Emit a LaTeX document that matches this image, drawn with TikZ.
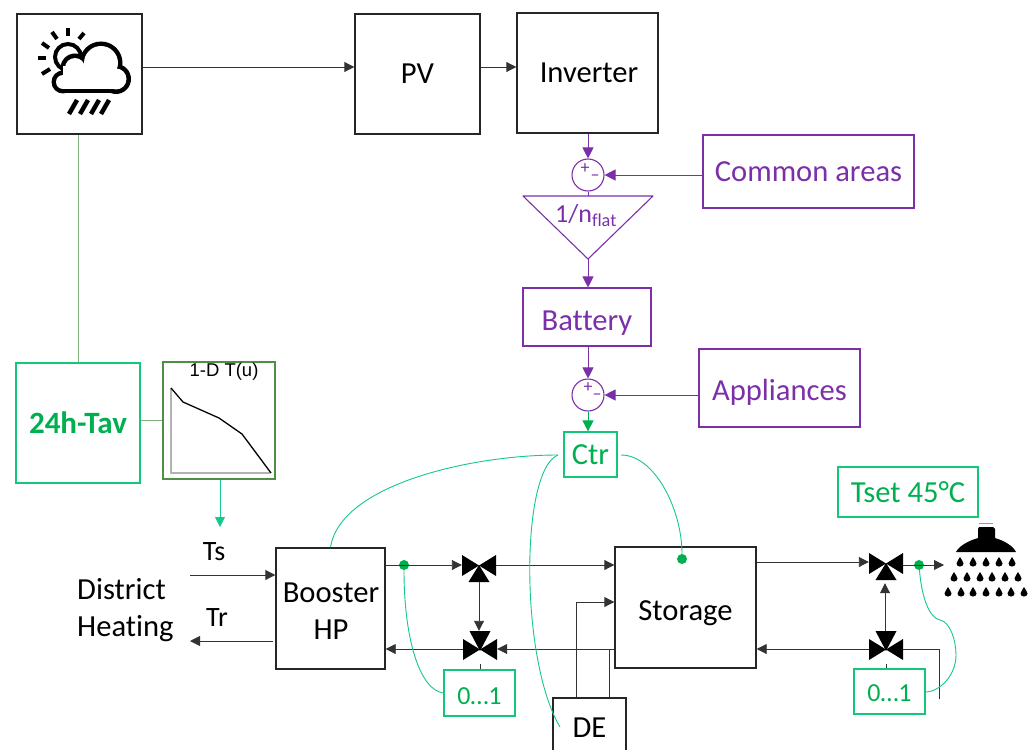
\documentclass[tikz,border=0pt]{standalone}
\usepackage{fontspec}
\setmainfont[Ligatures=NoCommon]{Carlito}
\newfontfamily\chartfont{Liberation Sans}
\usetikzlibrary{arrows.meta,calc}
\definecolor{ctrgreen}{HTML}{00B050}
\definecolor{wiregreen}{HTML}{14C98A}
\definecolor{boxgreen}{HTML}{12C878}
\definecolor{chartgreen}{HTML}{4E8F45}
\definecolor{linkgreen}{HTML}{7FB07A}
\definecolor{elecpurple}{HTML}{7B2FA8}
\tikzset{
    bigtext/.style={font=\fontsize{30.6}{37}\selectfont},
    boxtext/.style={bigtext, text height=24pt, text depth=4pt},
    blackbox/.style={draw=black!85, line width=1.4pt, inner sep=0pt, boxtext},
    purplebox/.style={draw=elecpurple, line width=1.1pt, inner sep=0pt, text=elecpurple, boxtext},
    greenbox/.style={draw=boxgreen, line width=1.3pt, inner sep=0pt, text=ctrgreen, boxtext},
    sumnode/.style={circle, draw=elecpurple, line width=1.1pt, minimum size=32pt, inner sep=0pt},
    signtext/.style={text=elecpurple, inner sep=0pt, font=\fontsize{18}{20}\selectfont},
    valve/.style={minimum width=34pt, minimum height=30pt, inner sep=0pt},
    greendot/.style={circle, fill=ctrgreen, minimum size=10pt, inner sep=0pt},
    flow/.style={line width=0.9pt, black!80, -{Triangle[length=10pt,width=10pt]}},
    plainflow/.style={line width=0.9pt, black!80},
    purpleflow/.style={line width=0.9pt, elecpurple, -{Triangle[length=11pt,width=11pt]}},
    wire/.style={line width=0.9pt, wiregreen},
    valveup/.pic={
        \fill (-17,-12) -- (17,9) -- (17,-12) -- (-17,9) -- cycle;
        \fill (0,-2) -- (10.5,15) -- (-10.5,15) -- cycle;
    },
    valvedown/.pic={
        \fill (-17,-10) -- (17,11) -- (17,-10) -- (-17,11) -- cycle;
        \fill (0,2) -- (10.5,-18) -- (-10.5,-18) -- cycle;
    },
    droplet/.pic={
        \fill (0,-5) .. controls (1,-2) and (3.5,-1) .. (3.5,1.5) .. controls (3.5,5.5) and (-3.5,5.5) .. (-3.5,1.5) .. controls (-3.5,-1) and (-1,-2) .. (0,-5);
    }
}
\begin{document}
\begin{tikzpicture}[x=1pt, y=-1pt]
    \useasboundingbox (0, 0) rectangle (1035, 749);

    % Top row of boxes
    \node[blackbox, minimum width=125pt, minimum height=120pt] (weather) at (79.5, 74) {};
    \node[blackbox, minimum width=125pt, minimum height=120pt] (pv) at (417.5, 74) {PV};
    \node[blackbox, minimum width=141pt, minimum height=120pt] (inverter) at (587.5, 73) {\hspace*{3pt}Inverter};

    % Weather icon: sun, cloud and rain
    \foreach \xa/\ya/\xb/\yb in {
        68/28/68/36, 52/32/57/39, 84/33/79/39, 42/43/49/48, 38/58/46/58, 42/74/50/69
    }
    \draw[line width=4pt] (\xa, \ya) -- (\xb, \yb);
    \draw[line width=4pt] (68, 57) circle (13);
    \foreach \x/\y/\r in {101/63/21.5, 75/68/14.5, 116/79/15, 63/82/11.5}
    \fill (\x, \y) circle (\r);
    \fill (63, 72) rectangle (116, 93.5);
    \foreach \x/\y/\r in {101/63/17, 75/68/10, 116/79/10.5, 63/82/7}
    \fill[white] (\x, \y) circle (\r);
    \fill[white] (63, 66) rectangle (116, 89);
    \foreach \x in {69, 80, 91, 101}
    \draw[line width=4.5pt] (\x, 114) -- (\x + 8, 100);

    % Electrical chain
    \node[sumnode] (sumtop) at (588, 175) {};
    \node[signtext] (plustop) at (585, 169) {+};
    \node[signtext] (minustop) at (595, 178) {–};
    \node[purplebox, minimum width=211pt, minimum height=73pt] (common) at (808.5, 171.5) {Common areas};
    \coordinate (tribase) at (588, 196);
    \coordinate (tritip) at (588, 259);
    \draw[elecpurple, line width=1.1pt, line join=round] (523, 196) -- (653, 196) -- (tritip) -- cycle;
    \node[text=elecpurple, inner sep=0pt, font=\fontsize{26}{30}\selectfont] (ratio) at (586, 216) {1/n\textsubscript{flat}};
    \node[purplebox, minimum width=128pt, minimum height=58pt, text height=28pt, text depth=2pt] (battery) at (587, 317) {Battery};
    \node[sumnode] (sumlow) at (588, 395) {};
    \node[signtext] (pluslow) at (588, 388) {+};
    \node[signtext] (minuslow) at (597, 397) {–};
    \node[purplebox, minimum width=161pt, minimum height=78pt, text height=27pt, text depth=3pt] (appliances) at (779.5, 388) {Appliances};
    \node[greenbox, minimum width=53pt, minimum height=45pt] (ctr) at (590.5, 454.5) {Ctr};

    \draw[purpleflow] (inverter.south -| sumtop) -- (sumtop.north);
    \draw[purpleflow] (common.west |- sumtop) -- (sumtop.east);
    \draw[elecpurple, line width=0.9pt] (sumtop.south) -- (tribase);
    \draw[purpleflow] (tritip) -- (tritip |- battery.north);
    \draw[purpleflow] (battery.south -| sumlow) -- (sumlow.north);
    \draw[purpleflow] (appliances.west |- sumlow) -- (sumlow.east);
    \draw[line width=0.9pt, ctrgreen, -{Triangle[length=11pt,width=11pt]}] (sumlow.south) -- (sumlow.south |- ctr.north);

    \draw[flow] (weather.east |- 0, 67) -- (pv.west |- 0, 67);
    \draw[flow] (pv.east |- 0, 67) -- (inverter.west |- 0, 67);

    % Temperature average and chart
    \node[greenbox, minimum width=124pt, minimum height=120pt, font=\fontsize{31}{36}\selectfont\bfseries] (tav) at (78, 423) {24h-Tav};
    \node[draw=chartgreen, line width=1.3pt, minimum width=112pt, minimum height=117pt, inner sep=0pt] (chart) at (219, 420.5) {};
    \node[inner sep=0pt, font=\chartfont\fontsize{18.5}{22}\selectfont] (charttitle) at (224, 372) {1-D T(u)};
    \draw[black!30, line width=1.6pt] (171, 388) -- (171, 473) -- (270, 473);
    \draw[line width=1.3pt] (171, 388) -- (183, 402) -- (219, 418) -- (242, 434) -- (271, 473);
    \coordinate (chartout) at (220, 527);

    \draw[linkgreen, line width=0.9pt] (weather.south -| tav) -- (tav.north);
    \draw[linkgreen, line width=0.9pt] (tav.east |- chart) -- (chart.west);
    \draw[line width=0.9pt, wiregreen, -{Triangle[length=10pt,width=10pt]}] (chart.south -| chartout) -- (chartout);

    % Hydraulic part
    \node[blackbox, minimum width=109pt, minimum height=121pt] (booster) at (330.5, 608.5) {};
    \node[inner sep=0pt, bigtext, align=center] (boosterlabel) at (331, 611) {Booster\\HP};
    \node[blackbox, minimum width=141pt, minimum height=121pt, text height=27pt, text depth=2pt] (storage) at (685.5, 607.5) {Storage};
    \node[blackbox, minimum width=73pt, minimum height=70pt, text height=16pt, text depth=8pt] (de) at (589.5, 733) {DE};
    \node[valve] (mixa) at (479, 567) {};
    \node[valve] (mixb) at (480, 649) {};
    \node[valve] (mixc) at (886, 565) {};
    \node[valve] (mixd) at (886, 649) {};
    \pic at (mixa) {valveup};
    \pic at (mixb) {valvedown};
    \pic at (mixc) {valveup};
    \pic at (mixd) {valvedown};
    \node[greenbox, minimum width=71pt, minimum height=46pt, font=\fontsize{26}{30}\selectfont, text height=25pt, text depth=3pt] (rangea) at (479.5, 693) {0…1};
    \node[greenbox, minimum width=71pt, minimum height=45pt, font=\fontsize{26}{30}\selectfont] (rangeb) at (889.5, 691.5) {0…1};
    \node[greenbox, minimum width=140pt, minimum height=50pt] (tset) at (908, 492) {Tset 45°C};

    % District heating side
    \node[anchor=base west, inner sep=0pt, bigtext] (district) at (77, 599) {District};
    \node[anchor=base west, inner sep=0pt, bigtext] (heating) at (77, 636) {Heating};
    \node[inner sep=0pt, font=\fontsize{28}{32}\selectfont] (ts) at (214, 552) {Ts};
    \node[inner sep=0pt, font=\fontsize{28}{32}\selectfont] (tr) at (217, 618) {Tr};
    \coordinate (tsin) at (190, 575);
    \coordinate (trout) at (190, 641);
    \coordinate (trstart) at (273, 641);
    \draw[flow] (tsin) -- (booster.west |- tsin);
    \draw[flow] (trstart) -- (trout);

    \node[greendot] (dota) at (404, 565) {};
    \node[greendot] (dotb) at (682, 559) {};
    \node[greendot] (dotc) at (919, 565) {};

    % Pipes
    \draw[flow] (booster.east |- dota) -- (mixa.west |- dota);
    \draw[flow] (mixa.east |- dota) -- (storage.west |- dota);
    \draw[flow] (mixa.south) -- ($(mixb.north) + (-1, -3)$);
    \draw[flow] (mixb.west) -- (booster.east |- mixb);
    \draw[flow] (storage.west |- mixb) -- (mixb.east);
    \draw[plainflow] (mixb.south) -- (mixb.south |- rangea.north);
    \draw[flow] (de.north -| 576, 0) -- (576, 602) -- (storage.west |- 0, 602);
    \draw[plainflow] (de.north -| 609, 0) -- (609, 649);

    \draw[flow] (storage.east |- 0, 562) -- (mixc.west |- 0, 562);
    \coordinate (showerin) at (944, 565);
    \draw[flow] (mixc.east) -- (showerin);
    \draw[flow] ($(mixd.north) + (-1, -3)$) -- ($(mixc.south) + (-1, 3)$);
    \draw[flow] (mixd.west) -- (storage.east |- mixd);
    \coordinate (pipeend) at (939, 699);
    \draw[plainflow] (mixd.east) -- (pipeend |- mixd) -- (pipeend);
    \draw[plainflow] (mixd.south) -- (mixd.south |- rangeb.north);

    % Control wires
    \coordinate (ctrleft) at (558, 455);
    \coordinate (ctrright) at (621, 455);
    \coordinate (deleft) at (560, 727);
    \coordinate (rangebout) at (925, 692);
    \draw[wire] (booster.north) .. controls (340, 485) and (470, 455) .. (ctrleft);
    \draw[wire] (ctrleft) .. controls (520, 470) and (520, 660) .. (deleft);
    \draw[wire] (ctrright) .. controls (655, 455) and (682, 510) .. (dotb);
    \draw[wire] (dota) .. controls (404, 640) and (420, 690) .. (rangea.west);
    \draw[wire] (dotc) .. controls (922, 600) and (930, 618) .. (940, 620)
        .. controls (950, 622) and (956, 640) .. (956, 655)
        .. controls (956, 675) and (940, 692) .. (rangebout);

    % Shower head
    \draw[black!40, line width=0.8pt] (979, 523) -- (993, 523);
    \fill (979, 527) -- (993, 527) -- (995, 529) -- (995, 538)
        .. controls (1005, 541) and (1013, 546) .. (1016, 552) -- (956, 552)
        .. controls (959, 546) and (968, 541) .. (978, 538) -- (978, 529) -- cycle;
    \foreach \x in {960, 973, 986, 999, 1012}
    \pic at (\x, 562) {droplet};
    \foreach \x in {954, 967, 980, 992, 1005, 1018}
    \pic at (\x, 577) {droplet};
    \foreach \x in {948, 961, 973, 986, 999, 1011, 1024}
    \pic at (\x, 592) {droplet};
\end{tikzpicture}
\end{document}
